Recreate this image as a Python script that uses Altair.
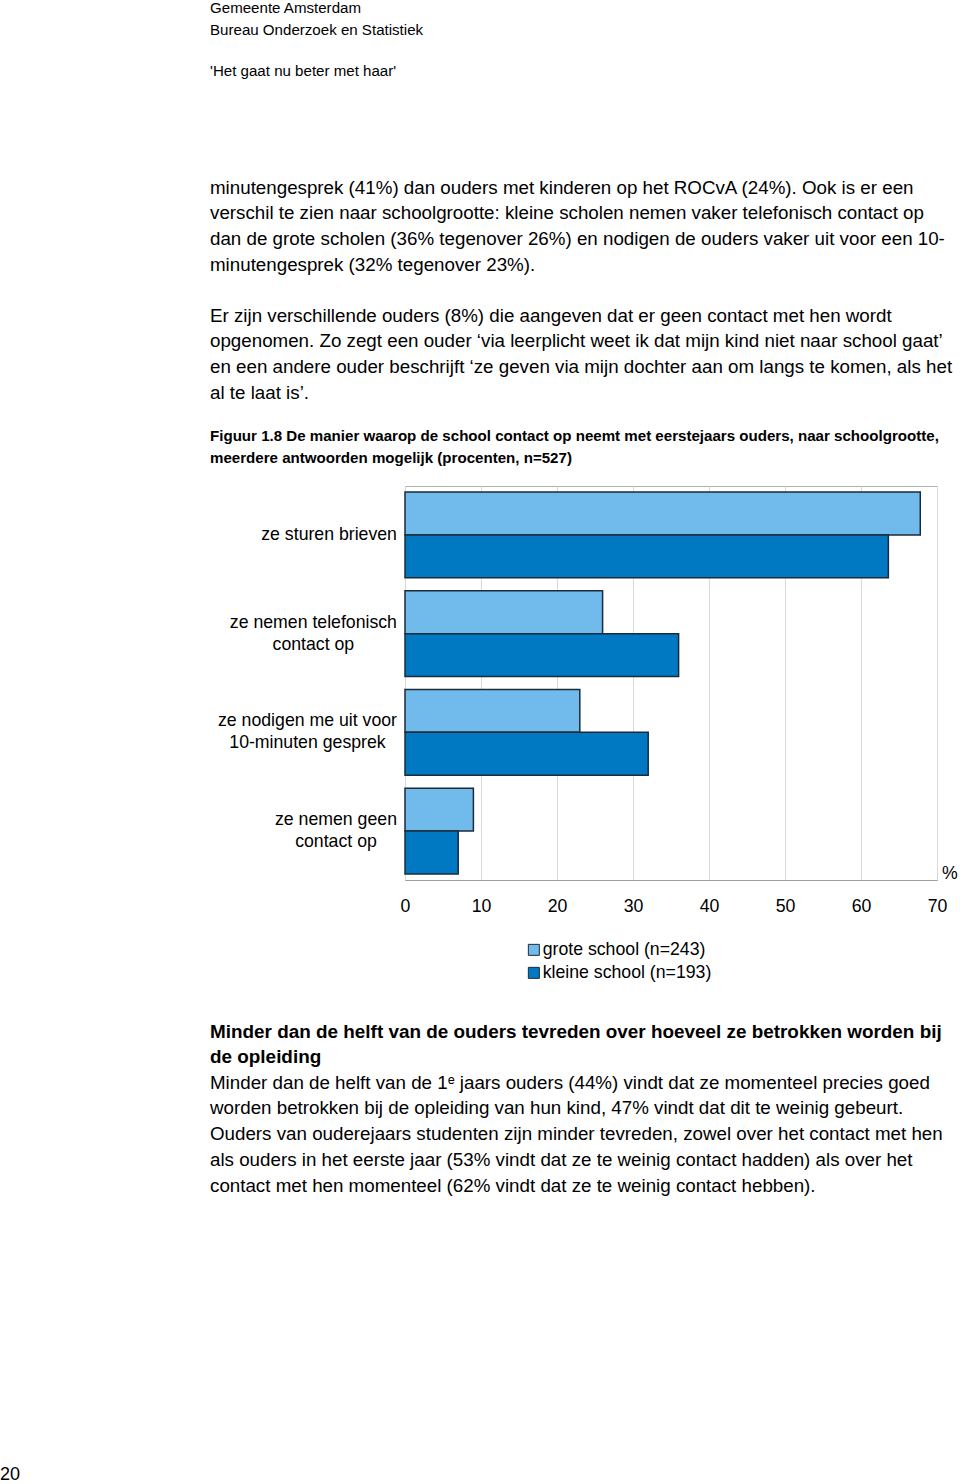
import altair as alt
import pandas as pd

# ---------------- data ----------------
categories = [
    "ze sturen brieven",
    "ze nemen telefonisch|contact op",
    "ze nodigen me uit voor|10-minuten gesprek",
    "ze nemen geen|contact op",
]
series = ["grote school (n=243)", "kleine school (n=193)"]
grote = [67.8, 26, 23, 9]
kleine = [63.6, 36, 32, 7]
x_ticks = [0, 10, 20, 30, 40, 50, 60, 70]
colors = ["#70bbeb", "#0079c2"]

header_lines = ["Gemeente Amsterdam", "Bureau Onderzoek en Statistiek"]
header_title = "'Het gaat nu beter met haar'"
para1 = [
    "minutengesprek (41%) dan ouders met kinderen op het ROCvA (24%). Ook is er een",
    "verschil te zien naar schoolgrootte: kleine scholen nemen vaker telefonisch contact op",
    "dan de grote scholen (36% tegenover 26%) en nodigen de ouders vaker uit voor een 10-",
    "minutengesprek (32% tegenover 23%).",
]
para2 = [
    "Er zijn verschillende ouders (8%) die aangeven dat er geen contact met hen wordt",
    "opgenomen. Zo zegt een ouder \u2018via leerplicht weet ik dat mijn kind niet naar school gaat\u2019",
    "en een andere ouder beschrijft \u2018ze geven via mijn dochter aan om langs te komen, als het",
    "al te laat is\u2019.",
]
fig_title = [
    "Figuur 1.8 De manier waarop de school contact op neemt met eerstejaars ouders, naar schoolgrootte,",
    "meerdere antwoorden mogelijk (procenten, n=527)",
]
heading = [
    "Minder dan de helft van de ouders tevreden over hoeveel ze betrokken worden bij",
    "de opleiding",
]
para3 = [
    "Minder dan de helft van de 1\u1d49 jaars ouders (44%) vindt dat ze momenteel precies goed",
    "worden betrokken bij de opleiding van hun kind, 47% vindt dat dit te weinig gebeurt.",
    "Ouders van ouderejaars studenten zijn minder tevreden, zowel over het contact met hen",
    "als ouders in het eerste jaar (53% vindt dat ze te weinig contact hadden) als over het",
    "contact met hen momenteel (62% vindt dat ze te weinig contact hebben).",
]
page_number = "20"

# ---------------- layout ----------------
FONT = "Liberation Sans"
W, H = 532, 394           # plot area
OX, OY = 405, 486         # plot origin on page
LBL = 17.7
BODY = 18.75

# approximate Arial advance widths (1/1000 em) for centering label lines
AW = {" ": 278, "-": 333, "a": 556, "b": 556, "c": 500, "d": 556, "e": 556, "f": 278,
      "g": 556, "h": 556, "i": 222, "j": 222, "k": 500, "l": 222, "m": 833, "n": 556,
      "o": 556, "p": 556, "q": 556, "r": 333, "s": 500, "t": 278, "u": 556, "v": 500,
      "w": 722, "x": 500, "y": 500, "z": 500}
for d in "0123456789":
    AW[d] = 556


def text_w(s, size):
    return sum(AW.get(c, 556) for c in s) / 1000.0 * size


rows = []
for c, g, k in zip(categories, grote, kleine):
    rows.append({"cat": c, "series": series[0], "value": g})
    rows.append({"cat": c, "series": series[1], "value": k})
df = pd.DataFrame(rows)

lab = pd.DataFrame({
    "cat": categories,
    "lines": [c.split("|") for c in categories],
    "n": [len(c.split("|")) for c in categories],
    "cx": [-8 - text_w(c.split("|")[0], LBL) / 2 for c in categories],
})

yscale = alt.Scale(domain=categories, paddingInner=0.13, paddingOuter=0.06)

bars = alt.Chart(df).mark_bar(stroke="#1c2b3a", strokeWidth=1.5).encode(
    x=alt.X("value:Q", scale=alt.Scale(domain=[0, 70], nice=False),
            axis=alt.Axis(values=x_ticks, title=None, ticks=False, grid=True,
                          gridColor="#d9d9d9", domainColor="#a0a0a0",
                          labelPadding=17, labelFontSize=LBL, labelFont=FONT,
                          labelFlush=False, labelColor="#000000")),
    y=alt.Y("cat:N", scale=yscale, axis=None),
    yOffset=alt.YOffset("series:N", sort=series,
                        scale=alt.Scale(paddingInner=0, paddingOuter=0)),
    color=alt.Color("series:N", sort=series,
                    scale=alt.Scale(domain=series, range=colors),
                    legend=alt.Legend(orient="none", legendX=120, legendY=455,
                                      title=None, symbolType="square", symbolSize=121,
                                      symbolStrokeColor="#1c2b3a", symbolStrokeWidth=1,
                                      symbolOpacity=1, labelLimit=0,
                                      labelFontSize=LBL, labelFont=FONT, labelColor="#000000",
                                      labelOffset=0, rowPadding=4, padding=0)),
)


def cat_layer(nlines, dy):
    return alt.Chart(lab).transform_filter(
        alt.datum.n == nlines
    ).mark_text(align="center", baseline="middle", font=FONT, fontSize=LBL,
                lineHeight=22, dy=dy, color="#000000").encode(
        x=alt.X("cx:Q", scale=None),
        y=alt.Y("cat:N", scale=yscale, axis=None, bandPosition=0.5),
        text="lines",
    )


layers = [bars, cat_layer(1, 0), cat_layer(2, -11)]


def block(lines, xp, yc, size, lh, bold=False):
    if isinstance(lines, str):
        lines = [lines]
    return alt.Chart(pd.DataFrame({"a": [0]})).mark_text(
        align="left", baseline="alphabetic", font=FONT, fontSize=size,
        fontWeight="bold" if bold else "normal", lineHeight=lh, color="#000000",
    ).encode(
        x=alt.value(xp - OX),
        y=alt.value(yc - OY + 0.36 * size),
        text=alt.value(lines),
    )


layers += [
    block(header_lines, 210, 8, 15.1, 21.5),
    block(header_title, 210, 71, 15.1, 21.5),
    block(para1, 210, 187, BODY, 25.7),
    block(para2, 210, 315, BODY, 25.7),
    block(fig_title, 210, 436, 15.1, 22, bold=True),
    block(heading, 210, 1031, 18.9, 25.3, bold=True),
    block(para3, 210, 1082, BODY, 25.7),
    block(page_number, 0, 1474, 18, 20),
    alt.Chart(pd.DataFrame({"a": [0]})).mark_text(
        align="left", baseline="middle", font=FONT, fontSize=LBL, color="#000000"
    ).encode(x=alt.value(W + 5), y=alt.value(H - 6), text=alt.value("%")),
]

chart = alt.layer(*layers).properties(
    width=W, height=H,
    padding={"left": OX, "top": OY, "right": 960 - OX - W, "bottom": 1484 - OY - H},
    autosize=alt.AutoSizeParams(type="none"),
    background="#ffffff",
).configure_view(stroke="#b0b0b0", strokeWidth=1)

chart.save("out.html", embed_options={"renderer": "svg", "actions": False})
